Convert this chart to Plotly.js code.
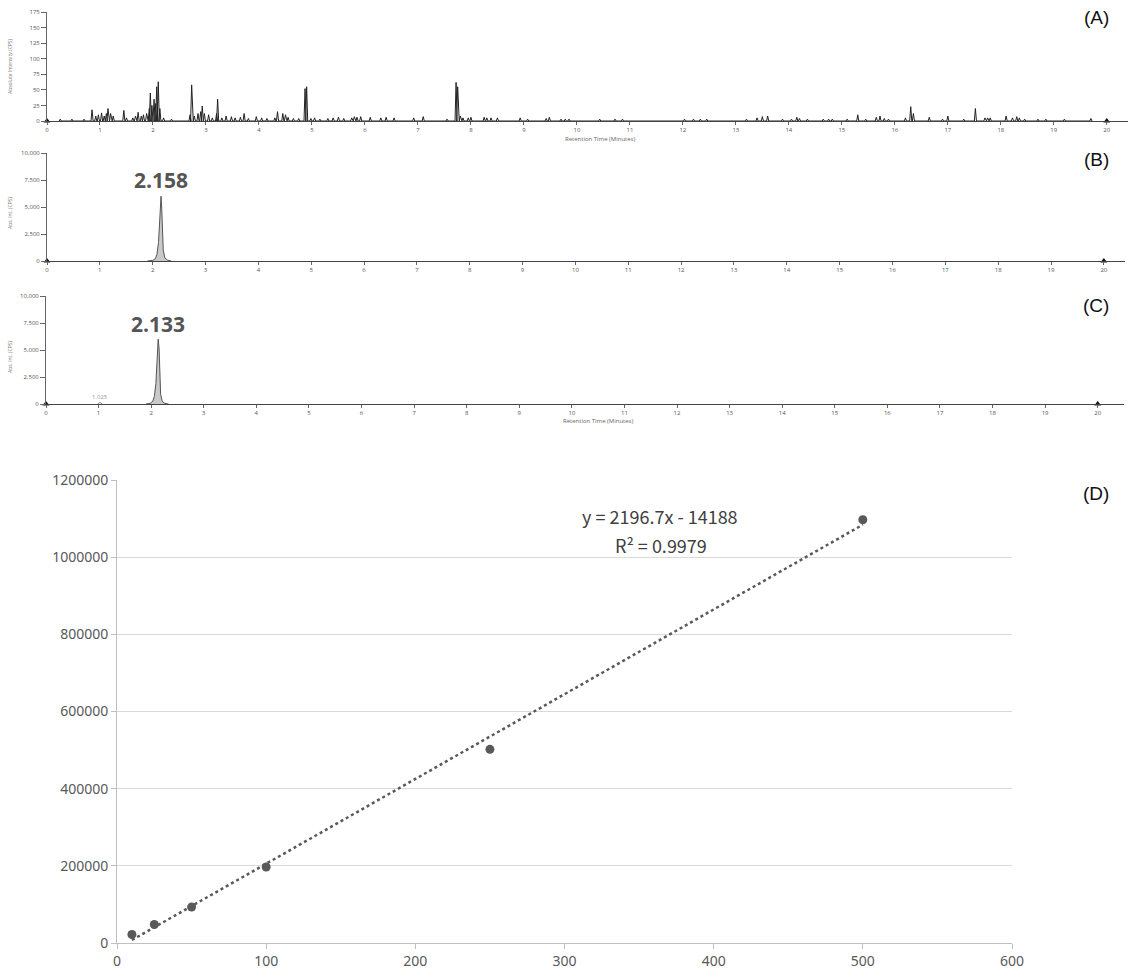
<!DOCTYPE html>
<html>
<head>
<meta charset="utf-8">
<script src="https://cdn.plot.ly/plotly-3.0.1.min.js"></script>
<style>html,body{margin:0;padding:0;background:#fff;}#chart{width:1131px;height:976px;}</style>
</head>
<body>
<div id="chart"></div>
<script>
// ---------- DATA ----------
// (A) total ion chromatogram: peak retention times (min) and heights (CPS)
const aPeakTimes = [0.25,0.47,0.7,0.85,0.92,0.97,1.03,1.08,1.12,1.15,1.2,1.25,1.45,1.5,1.62,1.67,1.72,1.78,1.82,1.88,1.93,1.95,1.98,2.02,2.05,2.07,2.1,2.13,2.2,2.35,
  2.7,2.73,2.78,2.85,2.9,2.93,2.97,3.05,3.12,3.2,3.22,3.3,3.38,3.48,3.55,3.65,3.72,3.8,3.95,4.05,4.15,4.3,4.35,4.45,4.5,4.55,4.65,4.75,4.87,4.9,4.98,
  5.05,5.15,5.3,5.4,5.5,5.6,5.75,5.8,5.85,5.92,6.1,6.3,6.4,6.55,6.92,7.1,7.55,7.72,7.75,7.8,7.85,7.95,8.0,8.25,8.3,8.38,8.5,8.93,9.07,9.42,9.48,9.7,9.78,9.85,
  10.43,10.72,10.86,12.03,12.2,12.33,12.45,13.2,13.4,13.5,13.6,13.88,14.05,14.15,14.2,14.35,14.65,14.75,14.82,15.1,15.3,15.45,15.65,15.72,15.8,15.88,
  16.2,16.3,16.35,16.65,16.9,17.0,17.3,17.52,17.7,17.75,17.8,18.1,18.22,18.3,18.35,18.45,18.7,18.85,19.2,19.7];
const aPeakHeights = [3,3,3,18,8,10,13,8,12,20,12,8,17,5,5,8,14,8,10,12,20,45,25,35,28,55,63,20,5,3,
  10,58,8,12,15,24,12,10,5,12,35,5,8,7,5,6,12,4,7,5,4,5,15,12,10,6,4,4,52,55,4,
  5,3,4,5,6,4,5,7,6,7,6,5,6,5,5,7,3,62,55,8,5,5,6,6,5,5,5,5,3,4,6,3,3,3,
  3,3,3,3,3,3,3,3,5,7,8,3,3,6,4,3,3,3,3,3,10,3,6,8,4,3,
  5,23,12,6,3,8,3,20,5,5,5,8,5,7,5,3,3,3,3,4];

// (B) sample chromatogram peak profile
const bTimes = [1.9,2.0,2.05,2.08,2.11,2.13,2.145,2.158,2.17,2.185,2.2,2.23,2.28,2.35];
const bIntensity = [0,60,200,600,1700,3400,5200,6000,5000,2600,1000,300,80,0];
const bPeakLabel = "2.158";
const bPeakTime = 2.158;

// (C) standard chromatogram peak profile
const cTimes = [1.9,1.98,2.03,2.06,2.09,2.11,2.12,2.133,2.15,2.165,2.18,2.21,2.26,2.33];
const cIntensity = [0,60,250,700,1900,4000,5600,6000,5200,2600,900,250,60,0];
const cSmallTimes = [0.98,1.025,1.07];
const cSmallIntensity = [0,150,0];
const cPeakLabel = "2.133";
const cPeakTime = 2.133;
const cSmallLabel = "1.025";

// (D) calibration curve
const concentration = [10,25,50,100,250,500];
const peakArea = [22000,48000,93000,197000,502000,1097000];
const slope = 2196.7;
const intercept = -14188;
const rSquared = "0.9979";

const chromTicks = [0,1,2,3,4,5,6,7,8,9,10,11,12,13,14,15,16,17,18,19,20];
const endMarkers = [0,20];

// ---------- helpers ----------
function spikes(times, heights, hw){
  const x=[], y=[];
  const idx = times.map((t,i)=>i).sort((a,b)=>times[a]-times[b]);
  idx.forEach(i=>{ x.push(times[i]-hw, times[i], times[i]+hw); y.push(0, heights[i], 0); });
  return {x, y};
}
const W=1131, H=976;
const px = v => v/W;
const py = v => (H - v)/H;

const a = spikes(aPeakTimes, aPeakHeights, 0.02);
const trendX = [concentration[0], concentration[concentration.length-1]];
const trendY = trendX.map(v => slope*v + intercept);

const gray = '#555';
const tickFontSmall = {family:'Open Sans, Noto Sans, sans-serif', size:6, color:'#555'};

const traces = [
  {x:a.x, y:a.y, xaxis:'x', yaxis:'y', mode:'lines', line:{color:'#222', width:1}, hoverinfo:'skip'},
  {x:endMarkers, y:[0,0], xaxis:'x', yaxis:'y', mode:'markers', marker:{symbol:'triangle-up', size:6, color:'#111'}, cliponaxis:false},

  {x:bTimes, y:bIntensity, xaxis:'x2', yaxis:'y2', mode:'lines', fill:'toself', fillcolor:'#c9c9c9', line:{color:'#555', width:1}},
  {x:endMarkers, y:[0,0], xaxis:'x2', yaxis:'y2', mode:'markers', marker:{symbol:'triangle-up', size:6, color:'#111'}, cliponaxis:false},

  {x:cTimes, y:cIntensity, xaxis:'x3', yaxis:'y3', mode:'lines', fill:'toself', fillcolor:'#c9c9c9', line:{color:'#555', width:1}},
  {x:cSmallTimes, y:cSmallIntensity, xaxis:'x3', yaxis:'y3', mode:'lines', line:{color:'#888', width:1}},
  {x:endMarkers, y:[0,0], xaxis:'x3', yaxis:'y3', mode:'markers', marker:{symbol:'triangle-up', size:6, color:'#111'}, cliponaxis:false},

  {x:trendX, y:trendY, xaxis:'x4', yaxis:'y4', mode:'lines', line:{color:'#595959', width:2.5, dash:'dot'}},
  {x:concentration, y:peakArea, xaxis:'x4', yaxis:'y4', mode:'markers', marker:{color:'#595959', size:9}, cliponaxis:false}
];

function chromX(domain, range, anchor){
  return {domain, range, anchor, tickvals:chromTicks, ticks:'outside', ticklen:3, tickcolor:'#666', tickwidth:1,
    showline:true, linecolor:'#444', linewidth:1.2, showgrid:false, zeroline:false, tickfont:tickFontSmall, fixedrange:true};
}
function chromY(domain, range, anchor, dtick, fmt){
  return {domain, range, anchor, dtick, tick0:0, tickformat:fmt, ticks:'outside', ticklen:5, tickcolor:'#666', tickwidth:1,
    showline:true, linecolor:'#666', linewidth:1, showgrid:false, zeroline:false, tickfont:tickFontSmall, fixedrange:true};
}

const layout = {
  width:W, height:H, margin:{l:0,r:0,t:0,b:0}, showlegend:false,
  paper_bgcolor:'#fff', plot_bgcolor:'rgba(0,0,0,0)',
  xaxis: chromX([px(47), px(1128)], [0, 20.4], 'y'),
  yaxis: chromY([py(121), py(12)], [0, 175], 'x', 25, 'd'),
  xaxis2: chromX([px(47), px(1125)], [0, 20.4], 'y2'),
  yaxis2: chromY([py(261), py(153)], [0, 10000], 'x2', 2500, ',d'),
  xaxis3: chromX([px(46), px(1124)], [0, 20.5], 'y3'),
  yaxis3: chromY([py(404), py(296)], [0, 10000], 'x3', 2500, ',d'),
  xaxis4: {domain:[px(117), px(1012)], range:[0,600], anchor:'y4', dtick:100, tick0:0, ticks:'outside', ticklen:5,
    tickcolor:'#bfbfbf', showline:true, linecolor:'#bfbfbf', linewidth:1, showgrid:false, zeroline:false,
    tickfont:{family:'Noto Sans, sans-serif', size:14, color:'#595959'}, fixedrange:true},
  yaxis4: {domain:[py(943), py(480)], range:[0,1200000], anchor:'x4', dtick:200000, tick0:0, tickformat:'d', ticks:'outside', ticklen:5,
    tickcolor:'#bfbfbf', showline:true, linecolor:'#bfbfbf', linewidth:1, showgrid:true, gridcolor:'#d9d9d9', gridwidth:1, zeroline:false,
    tickfont:{family:'Noto Sans, sans-serif', size:14, color:'#595959'}, fixedrange:true},
  annotations: [
    {text:'(A)', xref:'paper', yref:'paper', x:px(1096), y:py(18), xanchor:'center', yanchor:'middle', showarrow:false, font:{family:'Liberation Sans, Arial, sans-serif', size:19, color:'#111'}},
    {text:'(B)', xref:'paper', yref:'paper', x:px(1096), y:py(160), xanchor:'center', yanchor:'middle', showarrow:false, font:{family:'Liberation Sans, Arial, sans-serif', size:19, color:'#111'}},
    {text:'(C)', xref:'paper', yref:'paper', x:px(1096), y:py(305), xanchor:'center', yanchor:'middle', showarrow:false, font:{family:'Liberation Sans, Arial, sans-serif', size:19, color:'#111'}},
    {text:'(D)', xref:'paper', yref:'paper', x:px(1096), y:py(494), xanchor:'center', yanchor:'middle', showarrow:false, font:{family:'Liberation Sans, Arial, sans-serif', size:19, color:'#111'}},

    {text:'Absolute Intensity (CPS)', xref:'paper', yref:'paper', x:px(10), y:py(66), textangle:-90, xanchor:'center', yanchor:'middle', showarrow:false, font:{family:'Open Sans, sans-serif', size:5, color:'#777'}},
    {text:'Retention Time (Minutes)', xref:'paper', yref:'paper', x:px(600), y:py(139), xanchor:'center', yanchor:'middle', showarrow:false, font:{family:'Open Sans, sans-serif', size:6, color:'#666'}},
    {text:'Abs. Int. (CPS)', xref:'paper', yref:'paper', x:px(10), y:py(213), textangle:-90, xanchor:'center', yanchor:'middle', showarrow:false, font:{family:'Open Sans, sans-serif', size:5, color:'#777'}},
    {text:'Abs. Int. (CPS)', xref:'paper', yref:'paper', x:px(10), y:py(357), textangle:-90, xanchor:'center', yanchor:'middle', showarrow:false, font:{family:'Open Sans, sans-serif', size:5, color:'#777'}},
    {text:'Retention Time (Minutes)', xref:'paper', yref:'paper', x:px(598), y:py(421), xanchor:'center', yanchor:'middle', showarrow:false, font:{family:'Open Sans, sans-serif', size:6, color:'#666'}},

    {text:bPeakLabel, xref:'x2', yref:'paper', x:bPeakTime, y:py(180), xanchor:'center', yanchor:'middle', showarrow:false, font:{family:'Open Sans, sans-serif', size:21, color:'#555', weight:'bold'}},
    {text:cPeakLabel, xref:'x3', yref:'paper', x:cPeakTime, y:py(324), xanchor:'center', yanchor:'middle', showarrow:false, font:{family:'Open Sans, sans-serif', size:21, color:'#555', weight:'bold'}},
    {text:cSmallLabel, xref:'x3', yref:'paper', x:cSmallTimes[1], y:py(397), xanchor:'center', yanchor:'middle', showarrow:false, font:{family:'Open Sans, sans-serif', size:6, color:'#999'}},

    {text:'y = ' + slope + 'x - ' + Math.abs(intercept), xref:'paper', yref:'paper', x:px(660), y:py(516), xanchor:'center', yanchor:'middle', showarrow:false, font:{family:'Noto Sans CJK KR, Noto Sans, sans-serif', size:18, color:'#404040'}},
    {text:'R² = ' + rSquared, xref:'paper', yref:'paper', x:px(661), y:py(545), xanchor:'center', yanchor:'middle', showarrow:false, font:{family:'Noto Sans CJK KR, Noto Sans, sans-serif', size:18, color:'#404040'}}
  ]
};

Plotly.newPlot('chart', traces, layout, {staticPlot:true, displayModeBar:false});
</script>
</body>
</html>
